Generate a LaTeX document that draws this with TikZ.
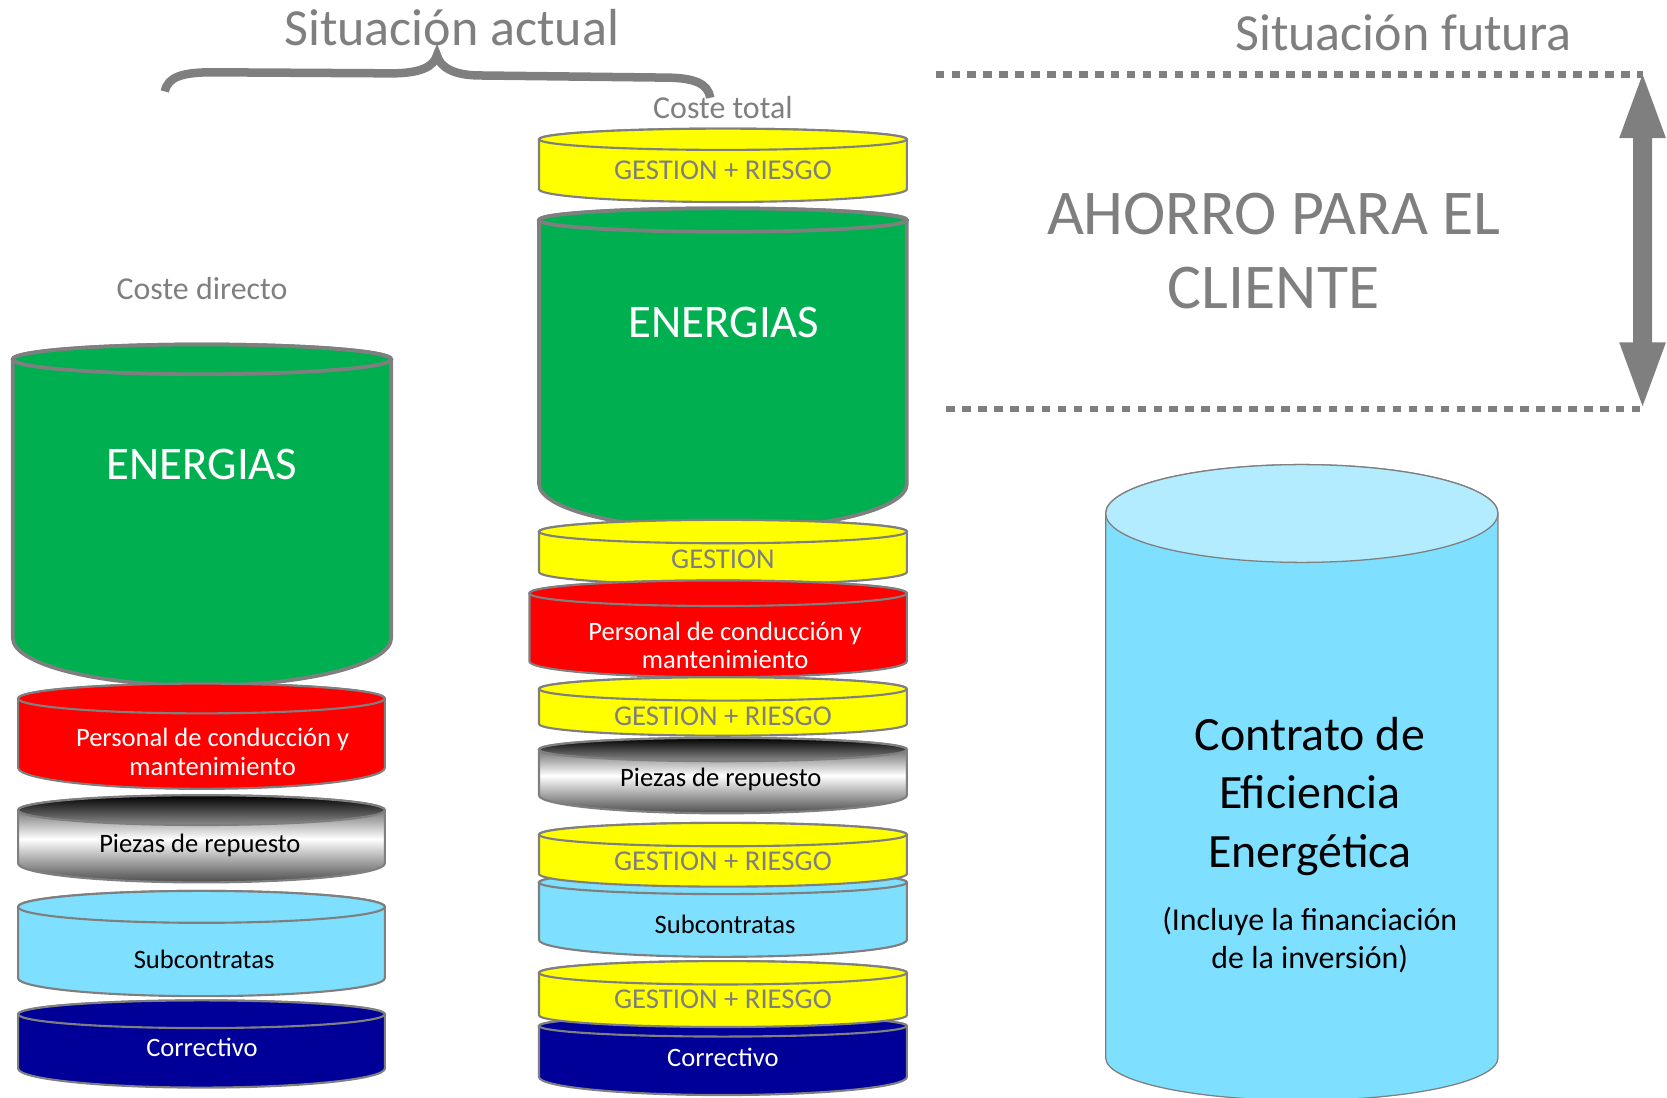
\documentclass[tikz,border=0pt]{standalone}
\usepackage{fontspec}
\setmainfont{Carlito}
\definecolor{cgreen}{HTML}{00B050}
\definecolor{cred}{HTML}{FF0000}
\definecolor{cyell}{HTML}{FFFF00}
\definecolor{cblue}{HTML}{7FDFFF}
\definecolor{cbluetop}{HTML}{B3ECFF}
\definecolor{cnavy}{HTML}{000099}
\definecolor{cgray}{HTML}{7F7F7F}
\newcommand\mycyl[8]{%
  \pgfmathsetmacro\rr{(#2-#1)/2}%
  \pgfmathsetmacro\cx{(#1+#2)/2}%
  \path[#7] (#1,-#3) -- (#1,-#5) arc[start angle=180,end angle=360,x radius=\rr pt,y radius=#6 pt] -- (#2,-#3) arc[start angle=0,end angle=180,x radius=\rr pt,y radius=#4 pt] -- cycle;
  \path[#8] (\cx,-#3) ellipse[x radius=\rr pt, y radius=#4 pt];
}
\tikzset{
  edge/.style={draw=cgray, line width=2pt},
  thick edge/.style={draw=cgray, line width=3.5pt},
  lab/.style={inner sep=0pt, align=center},
  graytxt/.style={lab, text=cgray},
  dotline/.style={draw=cgray, line width=6pt, dash pattern=on 8pt off 7pt},
  grayshade/.style={edge, top color=black!80, bottom color=black!70, middle color=white},
  grayshadetop/.style={edge, top color=black, bottom color=black!45},
}
\begin{document}
\begin{tikzpicture}[x=1pt,y=1pt]
\useasboundingbox (0,0) rectangle (1568,-1032);
% titles
\node[graytxt, font=\fontsize{49}{55}\selectfont] (sa) at (425,-26) {Situación actual};
\node[graytxt, font=\fontsize{49}{55}\selectfont] (sf) at (1320,-31) {Situación futura};
\node[graytxt, font=\fontsize{30}{34}\selectfont] (ct) at (680,-101) {Coste total};
\node[graytxt, font=\fontsize{30}{34}\selectfont] (cd) at (190,-271) {Coste directo};
% brace
\draw[cgray, line width=8pt] (155,-86) .. controls (158,-72) and (172,-68) .. (200,-68) -- (368,-69) .. controls (395,-69) and (408,-63) .. (411,-52) .. controls (414,-63) and (426,-71) .. (452,-71) -- (625,-73) .. controls (652,-73) and (666,-78) .. (668,-92);
% dotted lines and arrow
\coordinate (d1a) at (880,-70);
\coordinate (d1b) at (1545,-70);
\coordinate (d2a) at (890,-385);
\coordinate (d2b) at (1545,-385);
\draw[dotline] (d1a) -- (d1b);
\draw[dotline] (d2a) -- (d2b);
\fill[cgray] (1545,-70) -- (1567,-130) -- (1554,-130) -- (1554,-322) -- (1567,-322) -- (1545,-382) -- (1523,-322) -- (1536,-322) -- (1536,-130) -- (1523,-130) -- cycle;
\node[graytxt, font=\fontsize{60}{70}\selectfont] (ah) at (1198,-236) {AHORRO PARA EL\\CLIENTE};
% ---------- left column ----------
\mycyl{12}{368}{338}{14}{600}{45}{thick edge, fill=cgreen}{thick edge, fill=cgreen}
\node[lab, text=white, font=\fontsize{44}{50}\selectfont] (le) at (190,-437) {ENERGIAS};
\mycyl{17}{362}{657}{14}{722}{20}{edge, fill=cred}{edge, fill=cred}
\node[lab, text=white, font=\fontsize{25}{27}\selectfont] (lp) at (200,-707) {Personal de conducción y\\mantenimiento};
\mycyl{17}{362}{762}{14}{812}{18}{grayshade}{grayshadetop}
\node[lab, text=black, font=\fontsize{25}{27}\selectfont] (lr) at (188,-795) {Piezas de repuesto};
\mycyl{17}{362}{853}{15}{920}{17}{edge, fill=cblue}{edge, fill=cblue}
\node[lab, text=black, font=\fontsize{25}{27}\selectfont] (ls) at (192,-902) {Subcontratas};
\mycyl{17}{362}{954}{13}{1005}{18}{edge, fill=cnavy}{edge, fill=cnavy}
\node[lab, text=white, font=\fontsize{25}{27}\selectfont] (lc) at (190,-985) {Correctivo};
% ---------- right column ----------
\mycyl{507}{853}{131}{10}{178}{12}{edge, fill=cyell}{edge, fill=cyell}
\node[graytxt, font=\fontsize{27}{30}\selectfont] (g1) at (680,-160) {GESTION + RIESGO};
\mycyl{507}{853}{207}{11}{455}{43}{thick edge, fill=cgreen}{thick edge, fill=cgreen}
\node[lab, text=white, font=\fontsize{44}{50}\selectfont] (re) at (681,-303) {ENERGIAS};
\mycyl{507}{853}{500}{11}{538}{12}{edge, fill=cyell}{edge, fill=cyell}
\node[graytxt, font=\fontsize{27}{30}\selectfont] (g0) at (680,-526) {GESTION};
\mycyl{498}{853}{558}{12}{622}{15}{edge, fill=cred}{edge, fill=cred}
\node[lab, text=white, font=\fontsize{25}{27}\selectfont] (rp) at (682,-607) {Personal de conducción y\\mantenimiento};
\mycyl{507}{853}{648}{11}{681}{11}{edge, fill=cyell}{edge, fill=cyell}
\node[graytxt, font=\fontsize{27}{30}\selectfont] (g2) at (680,-674) {GESTION + RIESGO};
\mycyl{507}{853}{705}{11}{748}{17}{grayshade}{grayshadetop}
\node[lab, text=black, font=\fontsize{25}{27}\selectfont] (rr) at (678,-733) {Piezas de repuesto};
\mycyl{507}{853}{830}{11}{884}{16}{edge, fill=cblue}{edge, fill=cblue}
\mycyl{507}{853}{785}{11}{822}{12}{edge, fill=cyell}{edge, fill=cyell}
\node[graytxt, font=\fontsize{27}{30}\selectfont] (g3) at (680,-810) {GESTION + RIESGO};
\node[lab, text=black, font=\fontsize{25}{27}\selectfont] (rs) at (682,-869) {Subcontratas};
\mycyl{507}{853}{965}{10}{1013}{17}{edge, fill=cnavy}{edge, fill=cnavy}
\mycyl{507}{853}{915}{11}{955}{11}{edge, fill=cyell}{edge, fill=cyell}
\node[graytxt, font=\fontsize{27}{30}\selectfont] (g4) at (680,-940) {GESTION + RIESGO};
\node[lab, text=white, font=\fontsize{25}{27}\selectfont] (rc) at (680,-995) {Correctivo};
% ---------- future cylinder ----------
\mycyl{1040}{1409}{483}{46}{995}{40}{draw=cgray, line width=1.2pt, fill=cblue}{draw=cgray, line width=1.2pt, fill=cbluetop}
\node[lab, text=black, font=\fontsize{45}{55}\selectfont] (fc) at (1232,-749) {Contrato de\\Eficiencia\\Energética};
\node[lab, text=black, font=\fontsize{30}{36}\selectfont] (fi) at (1232,-884) {(Incluye la financiación\\de la inversión)};
\end{tikzpicture}
\end{document}
